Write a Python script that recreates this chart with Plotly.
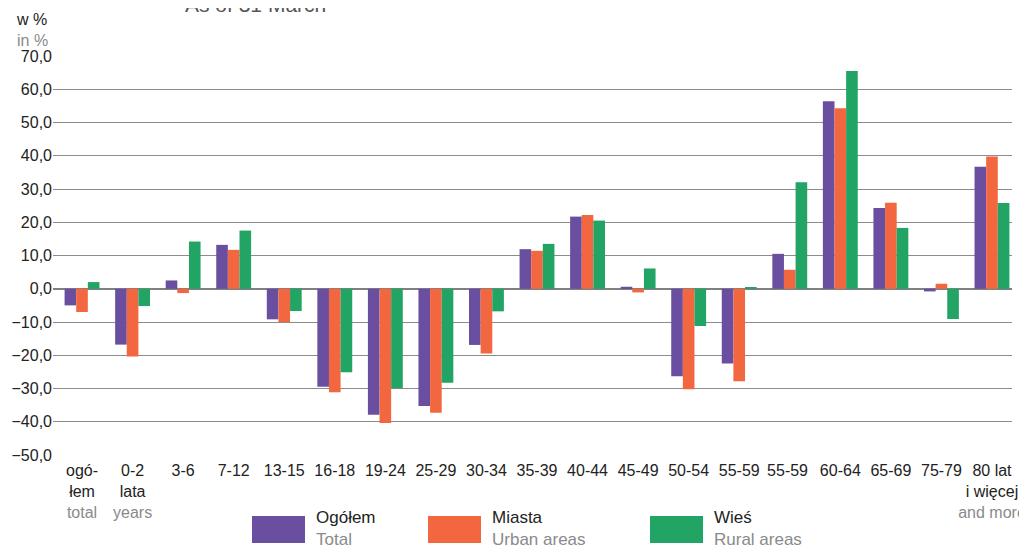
import plotly.graph_objects as go

categories = ["ogó-<br>łem<br><span style='color:#8a8a8a'>total</span>",
              "0-2<br>lata<br><span style='color:#8a8a8a'>years</span>",
              "3-6", "7-12", "13-15", "16-18", "19-24", "25-29", "30-34",
              "35-39", "40-44", "45-49", "50-54", "55-59", "55-59 ", "60-64",
              "65-69", "75-79",
              "80 lat<br>i więcej<br><span style='color:#8a8a8a'>and more</span>"]

total = [-5.0, -16.8, 2.5, 13.2, -9.2, -29.5, -37.9, -35.3, -16.9, 11.9, 21.7,
         0.6, -26.3, -22.5, 10.5, 56.4, 24.3, -0.8, 36.7]
urban = [-7.0, -20.4, -1.3, 11.7, -10.0, -31.1, -40.4, -37.3, -19.5, 11.4, 22.2,
         -1.1, -30.2, -27.8, 5.7, 54.3, 25.9, 1.5, 39.8]
rural = [2.0, -5.2, 14.2, 17.5, -6.7, -25.1, -29.9, -28.3, -6.8, 13.5, 20.5,
         6.1, -11.2, 0.4, 32.0, 65.5, 18.3, -9.1, 25.8]

series_names = ["Ogółem", "Miasta", "Wieś"]
series_names_en = ["Total", "Urban areas", "Rural areas"]
colors = ["#6a4fa0", "#f26740", "#22a464"]
y_ticks = [-50, -40, -30, -20, -10, 0, 10, 20, 30, 40, 50, 60, 70]

# page body has an 8px margin: figure pixel = screen pixel - 8
OFF = 8
W, H = 1027 - OFF, 545 - OFF
L, T = 53 - OFF, 56 - OFF
R = W - (1012 - OFF)
B = H - (455 - OFF)
pw, ph = W - L - R, H - T - B


def px_x(x):
    return (x - OFF - L) / pw


def px_y(y):
    return (H - B - (y - OFF)) / ph


fig = go.Figure()
xs = list(range(len(categories)))
for name, vals, col in zip(series_names, [total, urban, rural], colors):
    fig.add_trace(go.Bar(x=xs, y=vals, name=name, marker=dict(color=col, line=dict(width=0))))

fig.update_layout(
    width=W, height=H,
    margin=dict(l=L, r=R, t=T, b=B, autoexpand=False),
    plot_bgcolor="white", paper_bgcolor="white",
    barmode="group", bargap=0.31, bargroupgap=0,
    showlegend=False,
    separators=", ",
    font=dict(family="Liberation Sans, Arial, sans-serif", size=16, color="#222"),
)
fig.update_xaxes(
    tickmode="array", tickvals=xs, ticktext=categories, tickangle=0,
    range=[-0.574, len(categories) - 1 + 0.396], automargin=False,
    showgrid=False, zeroline=False, showline=False, ticks="",
    ticklabelstandoff=4,
    tickfont=dict(size=16, color="#222"),
)
fig.update_yaxes(
    range=[-50, 70], tickvals=y_ticks, tickformat=".1f", automargin=False,
    showgrid=True, gridcolor="#8c8c8c", gridwidth=1.2,
    zeroline=True, zerolinecolor="#808080", zerolinewidth=1.5,
    ticks="", tickfont=dict(size=16, color="#222"),
)

# title fragment (cut at the top edge, as in the source) and unit label
fig.add_annotation(xref="paper", yref="paper", x=px_x(183), y=px_y(5),
                   xanchor="left", yanchor="middle", showarrow=False,
                   text="As of 31 March", font=dict(size=21, color="#555"))
fig.add_annotation(xref="paper", yref="paper", x=px_x(14), y=px_y(9),
                   xanchor="left", yanchor="top", showarrow=False, align="left",
                   text="w %<br><span style='color:#8a8a8a'>in %</span>",
                   font=dict(size=16, color="#222"))

# custom legend
legend_x = [252, 428, 650]
for lx, col, nm, en in zip(legend_x, colors, series_names, series_names_en):
    fig.add_shape(type="rect", xref="paper", yref="paper",
                  x0=px_x(lx), x1=px_x(lx + 53), y0=px_y(543), y1=px_y(516),
                  fillcolor=col, line=dict(width=0))
    fig.add_annotation(xref="paper", yref="paper", x=px_x(lx + 62), y=px_y(506),
                       xanchor="left", yanchor="top", showarrow=False, align="left",
                       text=f"{nm}<br><span style='color:#8a8a8a'>{en}</span>",
                       font=dict(size=17, color="#222"))

fig.write_html("out.html")
